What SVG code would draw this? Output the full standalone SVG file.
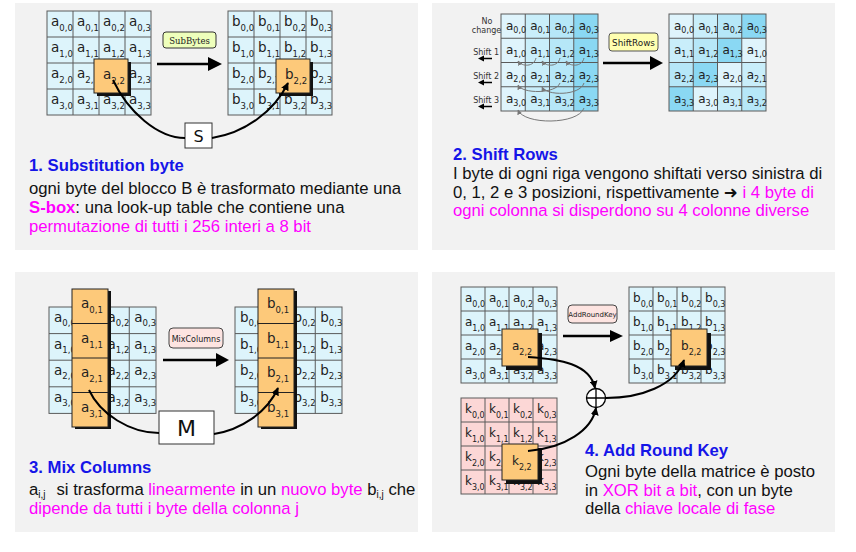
<svg xmlns="http://www.w3.org/2000/svg" width="856" height="552" viewBox="0 0 856 552">
<defs>
<style>
.panel{fill:#f2f2f2}
.g{stroke:#5a5a5a;stroke-width:1;fill:none}
.cy{fill:#ddf4fb}
.pk{fill:#fcd7d6}
.hl{fill:#fdc97a;stroke:#222;stroke-width:1}
.sh{fill:#111}
.cl{font-family:"DejaVu Sans",sans-serif;fill:#222}
.l1{font-size:13.5px}
.l2{font-size:12px}
.s1{font-size:8.5px}
.s2{font-size:8px}
.cur{fill:none;stroke:#000;stroke-width:2}
.gr{fill:none;stroke:#777;stroke-width:1}
.tx{font-family:"Liberation Sans",Arial,"DejaVu Sans",sans-serif;font-size:16.7px;fill:#111}
.tt{font-weight:bold;fill:#1515e8}
.mg{fill:#ff00ff}
.rl{font-family:"DejaVu Sans",sans-serif;font-size:8px;fill:#333}
</style>
<marker id="ah" viewBox="0 0 10 10" refX="9" refY="5" markerWidth="8" markerHeight="8" orient="auto" markerUnits="userSpaceOnUse"><path d="M0,0L10,5L0,10z" fill="#000"/></marker>
<marker id="ag" viewBox="0 0 10 10" refX="9" refY="5" markerWidth="5" markerHeight="5" orient="auto" markerUnits="userSpaceOnUse"><path d="M0,0L10,5L0,10z" fill="#777"/></marker>
</defs>

<g id="panels">
<rect class="panel" x="15" y="3" width="403" height="247"/>
<rect class="panel" x="432" y="3" width="403" height="247"/>
<rect class="panel" x="15" y="272" width="403" height="260"/>
<rect class="panel" x="432" y="272" width="403" height="260"/>
</g>

<!-- Panel 1 -->
<g id="p1-gridA">
<rect class="cy" x="47" y="11" width="104" height="104"/>
<rect class="g" x="47" y="11" width="104" height="104"/>
<path class="g" d="M73,11V115M99,11V115M125,11V115M47,37H151M47,63H151M47,89H151"/>
<g class="cl l1">
<text x="51" y="26">a<tspan class="s1" dy="5">0,0</tspan></text>
<text x="77" y="26">a<tspan class="s1" dy="5">0,1</tspan></text>
<text x="103" y="26">a<tspan class="s1" dy="5">0,2</tspan></text>
<text x="129" y="26">a<tspan class="s1" dy="5">0,3</tspan></text>
<text x="51" y="52">a<tspan class="s1" dy="5">1,0</tspan></text>
<text x="77" y="52">a<tspan class="s1" dy="5">1,1</tspan></text>
<text x="103" y="52">a<tspan class="s1" dy="5">1,2</tspan></text>
<text x="129" y="52">a<tspan class="s1" dy="5">1,3</tspan></text>
<text x="51" y="78">a<tspan class="s1" dy="5">2,0</tspan></text>
<text x="77" y="78">a<tspan class="s1" dy="5">2,1</tspan></text>
<text x="129" y="78">a<tspan class="s1" dy="5">2,3</tspan></text>
<text x="51" y="104">a<tspan class="s1" dy="5">3,0</tspan></text>
<text x="77" y="104">a<tspan class="s1" dy="5">3,1</tspan></text>
<text x="103" y="104">a<tspan class="s1" dy="5">3,2</tspan></text>
<text x="129" y="104">a<tspan class="s1" dy="5">3,3</tspan></text>
</g>
<rect class="sh" x="97" y="62" width="34" height="34"/>
<rect class="hl" x="94" y="59" width="34" height="34"/>
<text class="cl l1" x="103" y="79">a<tspan class="s1" dy="5">2,2</tspan></text>
</g>

<g id="p1-gridB">
<rect class="cy" x="228" y="11" width="104" height="104"/>
<rect class="g" x="228" y="11" width="104" height="104"/>
<path class="g" d="M254,11V115M280,11V115M306,11V115M228,37H332M228,63H332M228,89H332"/>
<g class="cl l1">
<text x="232" y="26">b<tspan class="s1" dy="5">0,0</tspan></text>
<text x="258" y="26">b<tspan class="s1" dy="5">0,1</tspan></text>
<text x="284" y="26">b<tspan class="s1" dy="5">0,2</tspan></text>
<text x="310" y="26">b<tspan class="s1" dy="5">0,3</tspan></text>
<text x="232" y="52">b<tspan class="s1" dy="5">1,0</tspan></text>
<text x="258" y="52">b<tspan class="s1" dy="5">1,1</tspan></text>
<text x="284" y="52">b<tspan class="s1" dy="5">1,2</tspan></text>
<text x="310" y="52">b<tspan class="s1" dy="5">1,3</tspan></text>
<text x="232" y="78">b<tspan class="s1" dy="5">2,0</tspan></text>
<text x="258" y="78">b<tspan class="s1" dy="5">2,1</tspan></text>
<text x="310" y="78">b<tspan class="s1" dy="5">2,3</tspan></text>
<text x="232" y="104">b<tspan class="s1" dy="5">3,0</tspan></text>
<text x="258" y="104">b<tspan class="s1" dy="5">3,1</tspan></text>
<text x="284" y="104">b<tspan class="s1" dy="5">3,2</tspan></text>
<text x="310" y="104">b<tspan class="s1" dy="5">3,3</tspan></text>
</g>
<rect class="sh" x="279" y="62" width="34" height="34"/>
<rect class="hl" x="276" y="59" width="34" height="34"/>
<text class="cl l1" x="285" y="79">b<tspan class="s1" dy="5">2,2</tspan></text>
</g>

<g id="p1-label">
<rect x="163" y="32" width="53" height="16" rx="3" fill="#eeffbb" stroke="#333"/>
<text x="189.5" y="43.5" text-anchor="middle" font-family="DejaVu Serif,serif" font-size="8.5" fill="#222">SubBytes</text>
</g>
<g id="p1-sbox">
<rect x="185" y="123" width="27" height="25" fill="#fff" stroke="#333"/>
<text x="198.5" y="142" text-anchor="middle" font-family="DejaVu Sans,sans-serif" font-size="16" fill="#111">S</text>
</g>

<!-- Panel 2 -->
<g id="p2-gridL">
<rect fill="#dff4fc" x="501" y="14" width="24.25" height="97"/>
<rect fill="#c9eefa" x="525.25" y="14" width="24.25" height="97"/>
<rect fill="#b6e7f8" x="549.5" y="14" width="24.25" height="97"/>
<rect fill="#8ad8f3" x="573.75" y="14" width="24.25" height="97"/>
<rect class="g" x="501" y="14" width="97" height="97"/>
<path class="g" d="M525.25,14V111M549.5,14V111M573.75,14V111M501,38.25H598M501,62.5H598M501,86.75H598"/>
<g class="cl l2">
<text x="506" y="30">a<tspan class="s2" dy="3">0,0</tspan></text>
<text x="530.25" y="30">a<tspan class="s2" dy="3">0,1</tspan></text>
<text x="554.5" y="30">a<tspan class="s2" dy="3">0,2</tspan></text>
<text x="578.75" y="30">a<tspan class="s2" dy="3">0,3</tspan></text>
<text x="506" y="54.25">a<tspan class="s2" dy="3">1,0</tspan></text>
<text x="530.25" y="54.25">a<tspan class="s2" dy="3">1,1</tspan></text>
<text x="554.5" y="54.25">a<tspan class="s2" dy="3">1,2</tspan></text>
<text x="578.75" y="54.25">a<tspan class="s2" dy="3">1,3</tspan></text>
<text x="506" y="78.5">a<tspan class="s2" dy="3">2,0</tspan></text>
<text x="530.25" y="78.5">a<tspan class="s2" dy="3">2,1</tspan></text>
<text x="554.5" y="78.5">a<tspan class="s2" dy="3">2,2</tspan></text>
<text x="578.75" y="78.5">a<tspan class="s2" dy="3">2,3</tspan></text>
<text x="506" y="102.75">a<tspan class="s2" dy="3">3,0</tspan></text>
<text x="530.25" y="102.75">a<tspan class="s2" dy="3">3,1</tspan></text>
<text x="554.5" y="102.75">a<tspan class="s2" dy="3">3,2</tspan></text>
<text x="578.75" y="102.75">a<tspan class="s2" dy="3">3,3</tspan></text>
</g>
</g>

<g id="p2-rowlabels">
<text class="rl" x="487" y="24" text-anchor="middle">No</text>
<text class="rl" x="486.5" y="33" text-anchor="middle">change</text>
<text class="rl" x="499" y="55" text-anchor="end">Shift 1</text>
<text class="rl" x="499" y="79" text-anchor="end">Shift 2</text>
<text class="rl" x="499" y="103" text-anchor="end">Shift 3</text>
<g stroke="#000" stroke-width="1.5" fill="#000">
<path d="M492,58.5H483"/><path d="M478,58.5L484,55.5V61.5z" stroke="none"/>
<path d="M492,82.5H483"/><path d="M478,82.5L484,79.5V85.5z" stroke="none"/>
<path d="M492,106.5H483"/><path d="M478,106.5L484,103.5V109.5z" stroke="none"/>
</g>
</g>

<g id="p2-gridR">
<rect fill="#dff4fc" x="669" y="14" width="24.25" height="24.25"/>
<rect fill="#c9eefa" x="693.25" y="14" width="24.25" height="24.25"/>
<rect fill="#b6e7f8" x="717.5" y="14" width="24.25" height="24.25"/>
<rect fill="#8ad8f3" x="741.75" y="14" width="24.25" height="24.25"/>
<rect fill="#c9eefa" x="669" y="38.25" width="24.25" height="24.25"/>
<rect fill="#b6e7f8" x="693.25" y="38.25" width="24.25" height="24.25"/>
<rect fill="#8ad8f3" x="717.5" y="38.25" width="24.25" height="24.25"/>
<rect fill="#dff4fc" x="741.75" y="38.25" width="24.25" height="24.25"/>
<rect fill="#b6e7f8" x="669" y="62.5" width="24.25" height="24.25"/>
<rect fill="#8ad8f3" x="693.25" y="62.5" width="24.25" height="24.25"/>
<rect fill="#dff4fc" x="717.5" y="62.5" width="24.25" height="24.25"/>
<rect fill="#c9eefa" x="741.75" y="62.5" width="24.25" height="24.25"/>
<rect fill="#8ad8f3" x="669" y="86.75" width="24.25" height="24.25"/>
<rect fill="#dff4fc" x="693.25" y="86.75" width="24.25" height="24.25"/>
<rect fill="#c9eefa" x="717.5" y="86.75" width="24.25" height="24.25"/>
<rect fill="#b6e7f8" x="741.75" y="86.75" width="24.25" height="24.25"/>
<rect class="g" x="669" y="14" width="97" height="97"/>
<path class="g" d="M693.25,14V111M717.5,14V111M741.75,14V111M669,38.25H766M669,62.5H766M669,86.75H766"/>
<g class="cl l2">
<text x="674" y="30">a<tspan class="s2" dy="3">0,0</tspan></text>
<text x="698.25" y="30">a<tspan class="s2" dy="3">0,1</tspan></text>
<text x="722.5" y="30">a<tspan class="s2" dy="3">0,2</tspan></text>
<text x="746.75" y="30">a<tspan class="s2" dy="3">0,3</tspan></text>
<text x="674" y="54.25">a<tspan class="s2" dy="3">1,1</tspan></text>
<text x="698.25" y="54.25">a<tspan class="s2" dy="3">1,2</tspan></text>
<text x="722.5" y="54.25">a<tspan class="s2" dy="3">1,3</tspan></text>
<text x="746.75" y="54.25">a<tspan class="s2" dy="3">1,0</tspan></text>
<text x="674" y="78.5">a<tspan class="s2" dy="3">2,2</tspan></text>
<text x="698.25" y="78.5">a<tspan class="s2" dy="3">2,3</tspan></text>
<text x="722.5" y="78.5">a<tspan class="s2" dy="3">2,0</tspan></text>
<text x="746.75" y="78.5">a<tspan class="s2" dy="3">2,1</tspan></text>
<text x="674" y="102.75">a<tspan class="s2" dy="3">3,3</tspan></text>
<text x="698.25" y="102.75">a<tspan class="s2" dy="3">3,0</tspan></text>
<text x="722.5" y="102.75">a<tspan class="s2" dy="3">3,1</tspan></text>
<text x="746.75" y="102.75">a<tspan class="s2" dy="3">3,2</tspan></text>
</g>
</g>

<g id="p2-label">
<rect x="609" y="33" width="49" height="18" rx="3" fill="#ffffb0" stroke="#555"/>
<text x="633.5" y="45.5" text-anchor="middle" font-family="DejaVu Sans,sans-serif" font-size="8.8" fill="#222">ShiftRows</text>
</g>

<!-- Panel 3 -->
<g id="p3-gridA">
<rect class="cy" x="49" y="307" width="107" height="106.4"/>
<rect class="g" x="49" y="307" width="107" height="106.4"/>
<path class="g" d="M75.75,307V413.4M102.5,307V413.4M129.25,307V413.4M49,333.6H156M49,360.2H156M49,386.8H156"/>
<g class="cl l1">
<text x="54" y="322">a<tspan class="s1" dy="4">0,0</tspan></text>
<text x="107.5" y="322">a<tspan class="s1" dy="4">0,2</tspan></text>
<text x="134.25" y="322">a<tspan class="s1" dy="4">0,3</tspan></text>
<text x="54" y="348.6">a<tspan class="s1" dy="4">1,0</tspan></text>
<text x="107.5" y="348.6">a<tspan class="s1" dy="4">1,2</tspan></text>
<text x="134.25" y="348.6">a<tspan class="s1" dy="4">1,3</tspan></text>
<text x="54" y="375.2">a<tspan class="s1" dy="4">2,0</tspan></text>
<text x="107.5" y="375.2">a<tspan class="s1" dy="4">2,2</tspan></text>
<text x="134.25" y="375.2">a<tspan class="s1" dy="4">2,3</tspan></text>
<text x="54" y="401.8">a<tspan class="s1" dy="4">3,0</tspan></text>
<text x="107.5" y="401.8">a<tspan class="s1" dy="4">3,2</tspan></text>
<text x="134.25" y="401.8">a<tspan class="s1" dy="4">3,3</tspan></text>
</g>
<rect class="sh" x="75" y="291" width="36" height="138"/>
<rect class="hl" x="72" y="289" width="36" height="138"/>
<path stroke="#222" d="M72,323.5H108M72,358H108M72,392.5H108"/>
<g class="cl l1">
<text x="81" y="308">a<tspan class="s1" dy="5">0,1</tspan></text>
<text x="81" y="342.5">a<tspan class="s1" dy="5">1,1</tspan></text>
<text x="81" y="377">a<tspan class="s1" dy="5">2,1</tspan></text>
<text x="81" y="411.5">a<tspan class="s1" dy="5">3,1</tspan></text>
</g>
</g>

<g id="p3-gridB">
<rect class="cy" x="235" y="307" width="107" height="106.4"/>
<rect class="g" x="235" y="307" width="107" height="106.4"/>
<path class="g" d="M261.75,307V413.4M288.5,307V413.4M315.25,307V413.4M235,333.6H342M235,360.2H342M235,386.8H342"/>
<g class="cl l1">
<text x="240" y="322">b<tspan class="s1" dy="4">0,0</tspan></text>
<text x="293.5" y="322">b<tspan class="s1" dy="4">0,2</tspan></text>
<text x="320.25" y="322">b<tspan class="s1" dy="4">0,3</tspan></text>
<text x="240" y="348.6">b<tspan class="s1" dy="4">1,0</tspan></text>
<text x="293.5" y="348.6">b<tspan class="s1" dy="4">1,2</tspan></text>
<text x="320.25" y="348.6">b<tspan class="s1" dy="4">1,3</tspan></text>
<text x="240" y="375.2">b<tspan class="s1" dy="4">2,0</tspan></text>
<text x="293.5" y="375.2">b<tspan class="s1" dy="4">2,2</tspan></text>
<text x="320.25" y="375.2">b<tspan class="s1" dy="4">2,3</tspan></text>
<text x="240" y="401.8">b<tspan class="s1" dy="4">3,0</tspan></text>
<text x="293.5" y="401.8">b<tspan class="s1" dy="4">3,2</tspan></text>
<text x="320.25" y="401.8">b<tspan class="s1" dy="4">3,3</tspan></text>
</g>
<rect class="sh" x="261" y="291" width="36" height="138"/>
<rect class="hl" x="258" y="289" width="36" height="138"/>
<path stroke="#222" d="M258,323.5H294M258,358H294M258,392.5H294"/>
<g class="cl l1">
<text x="267" y="308">b<tspan class="s1" dy="5">0,1</tspan></text>
<text x="267" y="342.5">b<tspan class="s1" dy="5">1,1</tspan></text>
<text x="267" y="377">b<tspan class="s1" dy="5">2,1</tspan></text>
<text x="267" y="411.5">b<tspan class="s1" dy="5">3,1</tspan></text>
</g>
</g>

<g id="p3-label">
<rect x="169" y="328" width="54" height="20" rx="4" fill="#fde4e1" stroke="#444"/>
<text x="196" y="341.5" text-anchor="middle" font-family="DejaVu Sans,sans-serif" font-size="8" fill="#222">MixColumns</text>
</g>
<g id="p3-mbox">
<rect x="159" y="411" width="55" height="33" fill="#fff" stroke="#333"/>
<text x="186.5" y="436" text-anchor="middle" font-family="DejaVu Sans,sans-serif" font-size="22" fill="#111">M</text>
</g>

<!-- Panel 4 -->
<g id="p4-gridA">
<rect class="cy" x="461" y="287" width="96" height="96"/>
<rect class="g" x="461" y="287" width="96" height="96"/>
<path class="g" d="M485,287V383M509,287V383M533,287V383M461,311H557M461,335H557M461,359H557"/>
<g class="cl l2">
<text x="465" y="302">a<tspan class="s2" dy="5">0,0</tspan></text>
<text x="489" y="302">a<tspan class="s2" dy="5">0,1</tspan></text>
<text x="513" y="302">a<tspan class="s2" dy="5">0,2</tspan></text>
<text x="537" y="302">a<tspan class="s2" dy="5">0,3</tspan></text>
<text x="465" y="326">a<tspan class="s2" dy="5">1,0</tspan></text>
<text x="489" y="326">a<tspan class="s2" dy="5">1,1</tspan></text>
<text x="513" y="326">a<tspan class="s2" dy="5">1,2</tspan></text>
<text x="537" y="326">a<tspan class="s2" dy="5">1,3</tspan></text>
<text x="465" y="350">a<tspan class="s2" dy="5">2,0</tspan></text>
<text x="489" y="350">a<tspan class="s2" dy="5">2,1</tspan></text>
<text x="537" y="350">a<tspan class="s2" dy="5">2,3</tspan></text>
<text x="465" y="374">a<tspan class="s2" dy="5">3,0</tspan></text>
<text x="489" y="374">a<tspan class="s2" dy="5">3,1</tspan></text>
<text x="513" y="374">a<tspan class="s2" dy="5">3,2</tspan></text>
<text x="537" y="374">a<tspan class="s2" dy="5">3,3</tspan></text>
</g>
<rect class="sh" x="506" y="333" width="36" height="37"/>
<rect class="hl" x="502" y="329" width="36" height="37"/>
<text class="cl l2" x="512" y="350">a<tspan class="s2" dy="5">2,2</tspan></text>
</g>

<g id="p4-gridB">
<rect class="cy" x="629" y="287" width="96" height="96"/>
<rect class="g" x="629" y="287" width="96" height="96"/>
<path class="g" d="M653,287V383M677,287V383M701,287V383M629,311H725M629,335H725M629,359H725"/>
<g class="cl l2">
<text x="633" y="302">b<tspan class="s2" dy="5">0,0</tspan></text>
<text x="657" y="302">b<tspan class="s2" dy="5">0,1</tspan></text>
<text x="681" y="302">b<tspan class="s2" dy="5">0,2</tspan></text>
<text x="705" y="302">b<tspan class="s2" dy="5">0,3</tspan></text>
<text x="633" y="326">b<tspan class="s2" dy="5">1,0</tspan></text>
<text x="657" y="326">b<tspan class="s2" dy="5">1,1</tspan></text>
<text x="681" y="326">b<tspan class="s2" dy="5">1,2</tspan></text>
<text x="705" y="326">b<tspan class="s2" dy="5">1,3</tspan></text>
<text x="633" y="350">b<tspan class="s2" dy="5">2,0</tspan></text>
<text x="657" y="350">b<tspan class="s2" dy="5">2,1</tspan></text>
<text x="705" y="350">b<tspan class="s2" dy="5">2,3</tspan></text>
<text x="633" y="374">b<tspan class="s2" dy="5">3,0</tspan></text>
<text x="657" y="374">b<tspan class="s2" dy="5">3,1</tspan></text>
<text x="681" y="374">b<tspan class="s2" dy="5">3,2</tspan></text>
<text x="705" y="374">b<tspan class="s2" dy="5">3,3</tspan></text>
</g>
<rect class="sh" x="675" y="333" width="36" height="37"/>
<rect class="hl" x="671" y="329" width="36" height="37"/>
<text class="cl l2" x="681" y="350">b<tspan class="s2" dy="5">2,2</tspan></text>
</g>

<g id="p4-gridK">
<rect class="pk" x="461" y="398" width="96" height="96"/>
<rect class="g" x="461" y="398" width="96" height="96"/>
<path class="g" d="M485,398V494M509,398V494M533,398V494M461,422H557M461,446H557M461,470H557"/>
<g class="cl l2">
<text x="465" y="413">k<tspan class="s2" dy="5">0,0</tspan></text>
<text x="489" y="413">k<tspan class="s2" dy="5">0,1</tspan></text>
<text x="513" y="413">k<tspan class="s2" dy="5">0,2</tspan></text>
<text x="537" y="413">k<tspan class="s2" dy="5">0,3</tspan></text>
<text x="465" y="437">k<tspan class="s2" dy="5">1,0</tspan></text>
<text x="489" y="437">k<tspan class="s2" dy="5">1,1</tspan></text>
<text x="513" y="437">k<tspan class="s2" dy="5">1,2</tspan></text>
<text x="537" y="437">k<tspan class="s2" dy="5">1,3</tspan></text>
<text x="465" y="461">k<tspan class="s2" dy="5">2,0</tspan></text>
<text x="489" y="461">k<tspan class="s2" dy="5">2,1</tspan></text>
<text x="537" y="461">k<tspan class="s2" dy="5">2,3</tspan></text>
<text x="465" y="485">k<tspan class="s2" dy="5">3,0</tspan></text>
<text x="489" y="485">k<tspan class="s2" dy="5">3,1</tspan></text>
<text x="513" y="485">k<tspan class="s2" dy="5">3,2</tspan></text>
<text x="537" y="485">k<tspan class="s2" dy="5">3,3</tspan></text>
</g>
<rect class="sh" x="506" y="448" width="36" height="36"/>
<rect class="hl" x="502" y="444" width="36" height="36"/>
<text class="cl l2" x="512" y="465">k<tspan class="s2" dy="5">2,2</tspan></text>
</g>

<g id="p4-label">
<rect x="568" y="305" width="49" height="18" rx="4" fill="#fde4e1" stroke="#444"/>
<text x="592.5" y="317" text-anchor="middle" font-family="DejaVu Sans,sans-serif" font-size="7" fill="#222">AddRoundKey</text>
</g>
<g id="p4-xor">
<circle cx="596" cy="398" r="9.5" fill="#fff" stroke="#000" stroke-width="1.3"/>
<path d="M586.5,398H605.5M596,388.5V407.5" stroke="#000" stroke-width="1.3"/>
</g>

<!-- Connectors -->
<g id="connectors">
<path d="M157,64H211" stroke="#000" stroke-width="2.5"/>
<path d="M208,57L222,64L208,71z" fill="#000"/>
<path class="cur" d="M113,80C128,112 158,138 185,138"/>
<path class="cur" d="M212,138C244,133 274,112 288,83" marker-end="url(#ah)"/>

<path d="M603,63H652" stroke="#000" stroke-width="2.5"/>
<path d="M650,56L663,63L650,70z" fill="#000"/>
<path class="gr" d="M536,58C534,67 522,67 518,61" marker-end="url(#ag)"/>
<path class="gr" d="M560,58C558,67 546,67 542,61" marker-end="url(#ag)"/>
<path class="gr" d="M584,58C582,67 570,67 566,61" marker-end="url(#ag)"/>
<path class="gr" d="M560,83C556,94 522,94 518,85" marker-end="url(#ag)"/>
<path class="gr" d="M584,83C580,96 546,96 542,87" marker-end="url(#ag)"/>
<path class="gr" d="M584,108C578,125 524,125 518,110" marker-end="url(#ag)"/>

<path d="M163,360H218" stroke="#000" stroke-width="2.5"/>
<path d="M216,353L229,360L216,367z" fill="#000"/>
<path class="cur" d="M89,390C100,414 130,433 159,433"/>
<path class="cur" d="M214,434C240,430 267,413 278,388" marker-end="url(#ah)"/>

<path d="M563,336H612" stroke="#000" stroke-width="2.5"/>
<path d="M610,330L623,336L610,342z" fill="#000"/>
<path class="cur" d="M528,357C560,359 590,364 595,388" marker-end="url(#ah)" stroke-width="1.6"/>
<path class="cur" d="M528,451C565,448 592,430 596,408" marker-end="url(#ah)" stroke-width="1.6"/>
<path class="cur" d="M606,398C640,398 675,386 684,360" marker-end="url(#ah)" stroke-width="1.6"/>
</g>

<!-- Texts -->
<g id="text1" class="tx">
<text class="tt" x="29" y="171">1. Substitution byte</text>
<text x="29" y="194">ogni byte del blocco B è trasformato mediante una</text>
<text x="29" y="213"><tspan class="mg" font-weight="bold">S-box</tspan>: una look-up table che contiene una</text>
<text class="mg" x="29" y="232">permutazione di tutti i 256 interi a 8 bit</text>
</g>
<g id="text2" class="tx">
<text class="tt" x="453" y="160">2. Shift Rows</text>
<text x="453" y="179">I byte di ogni riga vengono shiftati verso sinistra di</text>
<text x="453" y="197.5">0, 1, 2 e 3 posizioni, rispettivamente ➜ <tspan class="mg">i 4 byte di</tspan></text>
<text class="mg" x="453" y="216">ogni colonna si disperdono su 4 colonne diverse</text>
</g>
<g id="text3" class="tx">
<text class="tt" x="29" y="473">3. Mix Columns</text>
<text x="29" y="495">a<tspan font-size="10" dy="3">i,j</tspan></text>
<text x="56.5" y="495">si trasforma <tspan class="mg">linearmente</tspan> in un <tspan class="mg">nuovo byte</tspan> b<tspan font-size="10" dy="3">i,j</tspan><tspan dy="-3"> che</tspan></text>
<text class="mg" x="29" y="514">dipende da tutti i byte della colonna j</text>
</g>
<g id="text4" class="tx">
<text class="tt" x="585" y="456">4. Add Round Key</text>
<text x="585" y="477">Ogni byte della matrice è posto</text>
<text x="585" y="495.5">in <tspan class="mg">XOR bit a bit</tspan>, con un byte</text>
<text x="585" y="514">della <tspan class="mg">chiave locale di fase</tspan></text>
</g>
</svg>
